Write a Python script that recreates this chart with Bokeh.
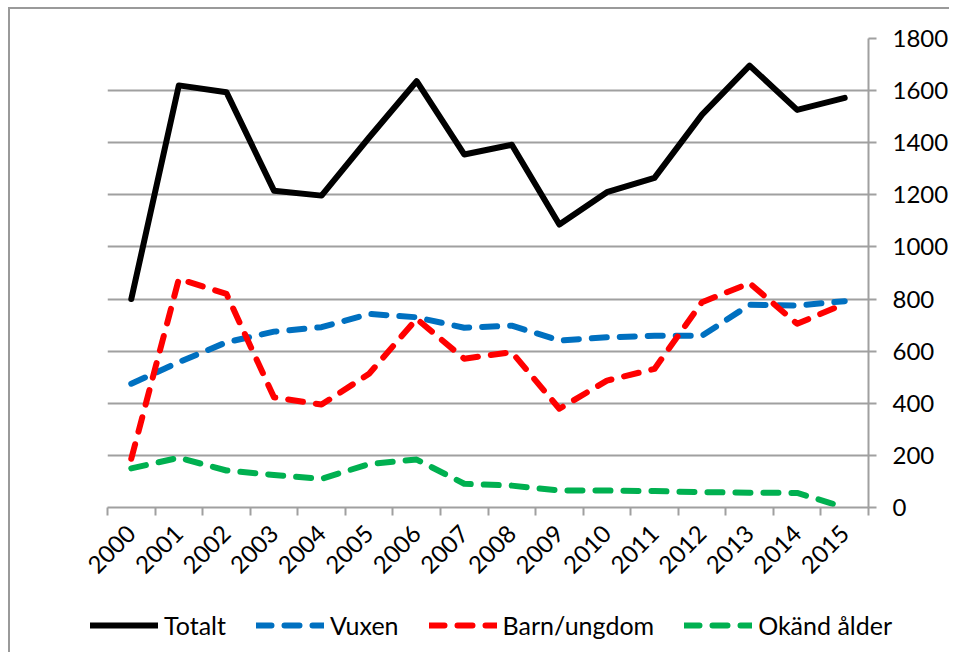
import math
from bokeh.plotting import figure
from bokeh.layouts import column
from bokeh.models import Range1d, FixedTicker, Legend, LegendItem
from bokeh.embed import file_html
from bokeh.resources import INLINE

years = list(range(2000, 2016))
totalt = [800, 1620, 1594, 1216, 1197, 1420, 1636, 1355, 1392, 1086, 1210, 1265, 1508, 1696, 1526, 1572]
vuxen = [475, 558, 634, 675, 692, 743, 730, 690, 698, 641, 653, 659, 659, 778, 775, 792]
barn = [187, 877, 820, 423, 395, 513, 724, 571, 596, 379, 487, 532, 788, 861, 705, 782]
okand = [150, 191, 142, 125, 110, 167, 184, 91, 84, 65, 65, 63, 59, 57, 56, 0]
y_ticks = list(range(0, 2000, 200))

series = [("Totalt", totalt, "black", None),
          ("Vuxen", vuxen, "#0070C0", "15 13"),
          ("Barn/ungdom", barn, "#FF0000", "15 13"),
          ("Okänd ålder", okand, "#00B050", "15 13")]

FONT = "Lato"
GRAY = "#a0a0a0"
BORDER = "2px solid #9a9a9a"

p = figure(width=941, height=591, output_backend="svg", toolbar_location=None,
           x_range=Range1d(years[0] - 0.5, years[-1] + 0.5), y_range=Range1d(0, 1800),
           y_axis_location="right",
           min_border_left=97, min_border_top=29, min_border_bottom=93, min_border_right=77)
p.styles = {"border-left": BORDER, "border-top": BORDER, "margin-left": "8px", "margin-top": "7px"}
p.outline_line_color = None

xt = FixedTicker(ticks=years, minor_ticks=[y - 0.5 for y in years] + [years[-1] + 0.5])
xa = p.xaxis[0]
xa.ticker = xt
xa.major_label_overrides = {y: str(y) for y in years}
xa.major_label_orientation = math.pi / 4
xa.major_tick_out = 0
xa.major_tick_in = 0
xa.minor_tick_out = 8
xa.minor_tick_in = 0
xa.minor_tick_line_color = GRAY
xa.minor_tick_line_width = 2
xa.axis_line_color = GRAY
xa.axis_line_width = 2
xa.major_label_text_font = FONT
xa.major_label_text_font_size = "24px"
xa.major_label_text_color = "black"
xa.major_label_standoff = 14

ya = p.yaxis[0]
ya.ticker = FixedTicker(ticks=y_ticks)
ya.major_tick_out = 8
ya.major_tick_in = 0
ya.minor_tick_out = 0
ya.minor_tick_in = 0
ya.major_tick_line_color = GRAY
ya.major_tick_line_width = 2
ya.axis_line_color = GRAY
ya.axis_line_width = 2
ya.major_label_text_font = FONT
ya.major_label_text_font_size = "24px"
ya.major_label_text_color = "black"
ya.major_label_standoff = 16

p.xgrid.visible = False
p.ygrid.ticker = FixedTicker(ticks=y_ticks)
p.ygrid.grid_line_color = GRAY
p.ygrid.grid_line_width = 2

# legend strip below the chart
p2 = figure(width=941, height=54, output_backend="svg", toolbar_location=None,
            x_range=Range1d(0, 1), y_range=Range1d(0, 1),
            x_axis_location=None, y_axis_location=None, min_border=0)
p2.frame_align = False
p2.styles = {"border-left": BORDER, "margin-left": "8px"}
p2.outline_line_color = None
p2.xgrid.visible = False
p2.ygrid.visible = False

items = []
for name, vals, color, dash in series:
    kw = dict(line_color=color, line_width=6, line_cap="round", line_join="round")
    if dash:
        kw["line_dash"] = dash
    p.line(years, vals, **kw)
    r2 = p2.line(years, vals, **kw)  # outside p2's ranges: only its legend glyph shows
    items.append(LegendItem(label=name, renderers=[r2]))

legend = Legend(items=items, orientation="horizontal", location=(80, 12))
legend.label_text_font = FONT
legend.label_text_font_size = "25px"
legend.label_text_color = "black"
legend.glyph_width = 68
legend.label_standoff = 6
legend.spacing = 30
legend.padding = 0
legend.margin = 0
legend.border_line_color = None
legend.background_fill_alpha = 0
p2.add_layout(legend)

layout = column(p, p2, spacing=0)
open("out.html", "w").write(file_html(layout, INLINE))
